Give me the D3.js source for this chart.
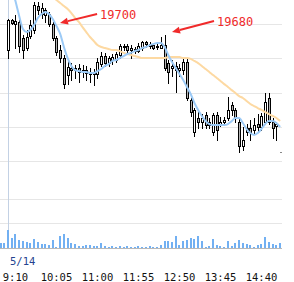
<!DOCTYPE html>
<html><head><meta charset="utf-8">
<script src="https://cdn.jsdelivr.net/npm/d3@7"></script>
<style>html,body{margin:0;padding:0;background:#fff;overflow:hidden}</style>
</head><body><svg id="c" width="294" height="282"></svg>
<script>
const day = "2015-05-14";
const sessionLabel = "5/14";
const firstCandleTime = "9:00";
const firstVolumeTime = "8:50";
const stepMinutes = 5;

const openP  = [19674.8,19692.3,19690.0,19691.2,19681.8,19676.0,19683.0,19686.5,19700.5,19695.8,19695.3,19695.8,19690.0,19681.8,19674.8,19670.1,19660.2,19664.3,19663.1,19664.3,19662.0,19663.1,19662.0,19660.8,19660.8,19666.6,19671.3,19667.2,19669.0,19669.0,19671.9,19676.6,19677.1,19674.8,19675.4,19674.2,19676.0,19679.5,19678.3,19677.7,19677.1,19676.0,19677.7,19667.2,19664.3,19665.5,19663.1,19663.1,19667.8,19645.6,19626.9,19635.1,19632.8,19636.9,19631.0,19626.9,19636.9,19631.0,19632.8,19635.1,19642.7,19639.8,19632.8,19618.8,19626.9,19629.3,19628.1,19631.6,19629.9,19632.8,19646.8,19632.8,19630.4,19615.3];
const highP  = [19692.9,19692.9,19695.3,19692.3,19683.6,19686.5,19692.3,19702.8,19702.8,19702.3,19699.3,19697.0,19691.2,19683.0,19677.7,19671.9,19669.0,19667.2,19666.0,19666.6,19666.0,19665.5,19664.3,19663.7,19670.1,19673.6,19673.1,19671.3,19672.5,19673.6,19678.3,19678.3,19678.3,19677.7,19676.6,19678.9,19680.1,19680.1,19679.5,19678.3,19678.3,19682.4,19683.6,19669.0,19669.0,19667.8,19666.6,19670.1,19670.1,19646.8,19640.9,19638.6,19637.4,19638.6,19635.1,19638.0,19638.6,19635.7,19635.7,19647.4,19644.4,19640.9,19635.1,19629.9,19631.6,19633.9,19635.1,19637.4,19638.0,19649.7,19649.7,19635.1,19632.8,19615.3];
const lowP   = [19670.1,19690.0,19676.0,19673.6,19670.1,19674.8,19681.8,19684.7,19695.8,19693.5,19691.2,19688.8,19680.6,19671.9,19667.8,19652.6,19654.9,19657.3,19658.5,19656.1,19659.0,19657.3,19656.1,19654.4,19658.5,19665.5,19665.5,19665.5,19666.6,19667.8,19670.1,19674.8,19673.1,19670.1,19673.1,19673.6,19674.8,19676.6,19676.0,19675.4,19675.4,19676.0,19663.1,19655.5,19659.6,19650.3,19659.6,19660.8,19645.6,19636.3,19624.6,19629.3,19629.3,19629.3,19629.3,19625.2,19622.3,19630.4,19631.0,19633.9,19636.9,19632.8,19615.3,19616.4,19625.2,19622.3,19626.3,19627.5,19628.1,19631.6,19631.6,19623.4,19622.3,19615.3];
const closeP = [19692.3,19690.6,19691.7,19677.1,19674.8,19682.4,19689.4,19701.1,19698.2,19699.3,19698.2,19690.0,19681.8,19673.6,19670.1,19654.9,19664.9,19663.1,19664.3,19662.0,19663.1,19661.4,19660.8,19662.0,19667.8,19671.3,19667.2,19670.1,19670.7,19672.5,19677.1,19677.1,19674.8,19676.0,19674.2,19677.1,19679.5,19678.3,19677.1,19676.0,19676.6,19677.7,19664.3,19662.0,19665.5,19663.1,19664.3,19667.8,19646.8,19638.6,19639.8,19632.8,19635.1,19631.0,19632.8,19636.9,19628.1,19632.8,19633.9,19639.8,19639.8,19635.1,19618.8,19622.3,19629.3,19626.9,19631.0,19629.9,19636.3,19644.4,19632.8,19629.3,19631.6,19615.3];

const maShort = [19718.6,19711.0,19703.4,19694.7,19687.1,19685.3,19686.5,19689.4,19693.5,19695.8,19697.0,19695.8,19692.9,19688.8,19684.2,19676.6,19670.1,19665.5,19663.1,19662.5,19662.0,19662.0,19661.4,19661.4,19662.5,19663.7,19665.5,19666.6,19668.4,19669.0,19670.1,19671.3,19672.5,19673.1,19674.2,19674.8,19676.0,19676.6,19677.7,19678.3,19678.9,19678.9,19676.6,19671.9,19667.8,19664.3,19660.8,19657.3,19653.2,19649.1,19643.9,19639.8,19636.3,19633.3,19631.6,19631.0,19631.0,19631.0,19631.0,19631.6,19633.3,19635.1,19635.1,19632.2,19628.7,19626.3,19625.2,19626.3,19628.7,19631.6,19633.3,19633.3,19632.2,19629.9];
const maLong = [null,null,null,null,null,null,null,null,null,null,null,19708.7,19706.3,19704.0,19702.3,19700.5,19698.8,19696.4,19693.5,19691.2,19688.2,19685.3,19682.4,19680.1,19677.7,19676.6,19676.0,19675.4,19674.8,19674.8,19674.2,19673.1,19672.5,19671.9,19671.3,19670.7,19670.1,19670.1,19670.1,19670.1,19670.1,19670.1,19670.1,19670.7,19670.7,19670.7,19670.7,19670.1,19670.1,19669.6,19668.4,19667.2,19665.5,19663.7,19662.0,19660.2,19658.5,19656.7,19654.9,19653.2,19651.4,19649.7,19647.9,19646.8,19645.0,19643.3,19642.1,19640.9,19639.8,19638.6,19637.4,19636.3,19635.1,19633.3];

const volume = [500,500,1800,1000,1400,800,700,600,500,900,600,400,400,300,800,100,1200,1400,1000,500,400,200,200,300,300,200,200,500,200,100,200,100,200,100,200,100,100,200,100,100,200,100,100,300,700,700,600,1200,300,700,800,1000,900,1200,700,100,200,900,300,200,100,700,200,500,800,500,400,300,100,300,400,1100,600,400,300,500];

const tickLabels = ["9:10","10:05","11:00","11:55","12:50","13:45","14:40"];
const priceGrid = [19690,19670,19650,19630,19610];
const volumeGrid = [2500,4900];
const annotations = [
  {label:"19700", tip:["10:09:45",19690.6], tail:["10:59:30",19695.8], text:["11:03:30",19692.9]},
  {label:"19680", tip:["12:40:00",19685.3], tail:["13:36:20",19691.7], text:["13:40:20",19689.1]}
];

const parseHM = d3.timeParse("%Y-%m-%d %H:%M");
const parseHMS = d3.timeParse("%Y-%m-%d %H:%M:%S");
const t0 = parseHM(day+" "+firstCandleTime);
const tv0 = parseHM(day+" "+firstVolumeTime);
const candleTimes = openP.map((_,i)=>d3.timeMinute.offset(t0, i*stepMinutes));
const volumeTimes = volume.map((_,i)=>d3.timeMinute.offset(tv0, i*stepMinutes));

const x = d3.scaleTime().domain([parseHM(day+" 9:00"), parseHM(day+" 15:00")]).range([8, 276.4]);
const y = d3.scaleLinear().domain([19610,19690]).range([161,24]);
const yv = d3.scaleLinear().domain([0,4900]).range([248,199]);
const left = 0, right = 282;

const svg = d3.select("#c");
svg.append("rect").attr("width",294).attr("height",282).attr("fill","#fff");

const g = svg.append("g").attr("shape-rendering","crispEdges");
g.selectAll(".pg").data(priceGrid).join("line")
  .attr("x1",left).attr("x2",right)
  .attr("y1",d=>Math.round(y(d))+0.5).attr("y2",d=>Math.round(y(d))+0.5)
  .attr("stroke","#e6e6e6");
g.selectAll(".vg").data(volumeGrid).join("line")
  .attr("x1",left).attr("x2",right)
  .attr("y1",d=>Math.round(yv(d))+0.5).attr("y2",d=>Math.round(yv(d))+0.5)
  .attr("stroke","#e6e6e6");
g.append("line").attr("x1",left).attr("x2",right)
  .attr("y1",Math.round(yv(0))+0.5).attr("y2",Math.round(yv(0))+0.5)
  .attr("stroke","#b8b8b8");
// session separator
g.append("line").attr("x1",Math.round(x(t0))+0.5).attr("x2",Math.round(x(t0))+0.5)
  .attr("y1",0).attr("y2",yv(0)).attr("stroke","#c3d1e4");

// volume bars
g.selectAll(".vb").data(volume).join("rect")
  .attr("x",(d,i)=>Math.round(x(volumeTimes[i]))-1)
  .attr("width",2)
  .attr("y",d=>yv(d))
  .attr("height",d=>yv(0)-yv(d))
  .attr("fill","#72b0f2");

// candles
const candles = g.append("g");
openP.forEach((o,i)=>{
  const h = highP[i], l = lowP[i], c = closeP[i];
  const cx = Math.round(x(candleTimes[i]));
  if (h === l) {
    candles.append("rect").attr("x",cx).attr("y",Math.round(y(h))).attr("width",2).attr("height",1).attr("fill","#888");
    return;
  }
  candles.append("line").attr("x1",cx+0.5).attr("x2",cx+0.5)
    .attr("y1",Math.round(y(h))).attr("y2",Math.round(y(l))+1).attr("stroke","#000");
  const top = Math.round(y(Math.max(o,c))), bot = Math.round(y(Math.min(o,c)));
  candles.append("rect").attr("x",cx-0.5).attr("width",2)
    .attr("y",top+0.5).attr("height",Math.max(bot-top,1))
    .attr("fill", c>=o ? "#fff" : "#b4b4b4").attr("stroke","#000");
});

// moving averages
const lineGen = d3.line().defined(d=>d!=null).x((d,i)=>x(candleTimes[i])).y(d=>y(d)).curve(d3.curveMonotoneX);
const lineGen2 = d3.line().defined(d=>d.v!=null).x(d=>x(d.t)).y(d=>y(d.v)).curve(d3.curveMonotoneX);
svg.append("path").datum(maLong.map((v,i)=>({t:candleTimes[i],v})))
  .attr("d",lineGen2).attr("fill","none").attr("stroke","#fdd9a2").attr("stroke-width",2);
svg.append("path").datum(maShort.map((v,i)=>({t:candleTimes[i],v})))
  .attr("d",lineGen2).attr("fill","none").attr("stroke","#9ccaf6").attr("stroke-width",2);

// annotations
const red = "#f02a2a";
annotations.forEach(a=>{
  const tx = x(parseHMS(day+" "+a.tip[0])), ty = y(a.tip[1]);
  const sx = x(parseHMS(day+" "+a.tail[0])), sy = y(a.tail[1]);
  const dx = tx-sx, dy = ty-sy, len = Math.hypot(dx,dy), ux = dx/len, uy = dy/len;
  const hl = 8, hw = 3.5;
  const bx = tx-ux*hl, by = ty-uy*hl;
  svg.append("line").attr("x1",sx).attr("y1",sy).attr("x2",bx).attr("y2",by)
    .attr("stroke",red).attr("stroke-width",2);
  svg.append("path").attr("d",`M${tx},${ty}L${bx-uy*hw},${by+ux*hw}L${bx+uy*hw},${by-ux*hw}Z`).attr("fill",red);
  svg.append("text").attr("x",x(parseHMS(day+" "+a.text[0]))).attr("y",y(a.text[1]))
    .attr("font-family","DejaVu Sans Mono").attr("font-size",12).attr("fill",red).text(a.label);
});

// date label
svg.append("text").attr("x",x(t0)+2).attr("y",265)
  .attr("font-family","DejaVu Sans Mono").attr("font-size",10.5).attr("fill","#24428f").text(sessionLabel);

// time tick labels
svg.selectAll(".tl").data(tickLabels).join("text")
  .attr("x",d=>x(parseHM(day+" "+d))).attr("y",281)
  .attr("text-anchor","middle").attr("font-family","DejaVu Sans Mono").attr("font-size",10.5)
  .attr("fill","#111").text(d=>d);
</script></body></html>
